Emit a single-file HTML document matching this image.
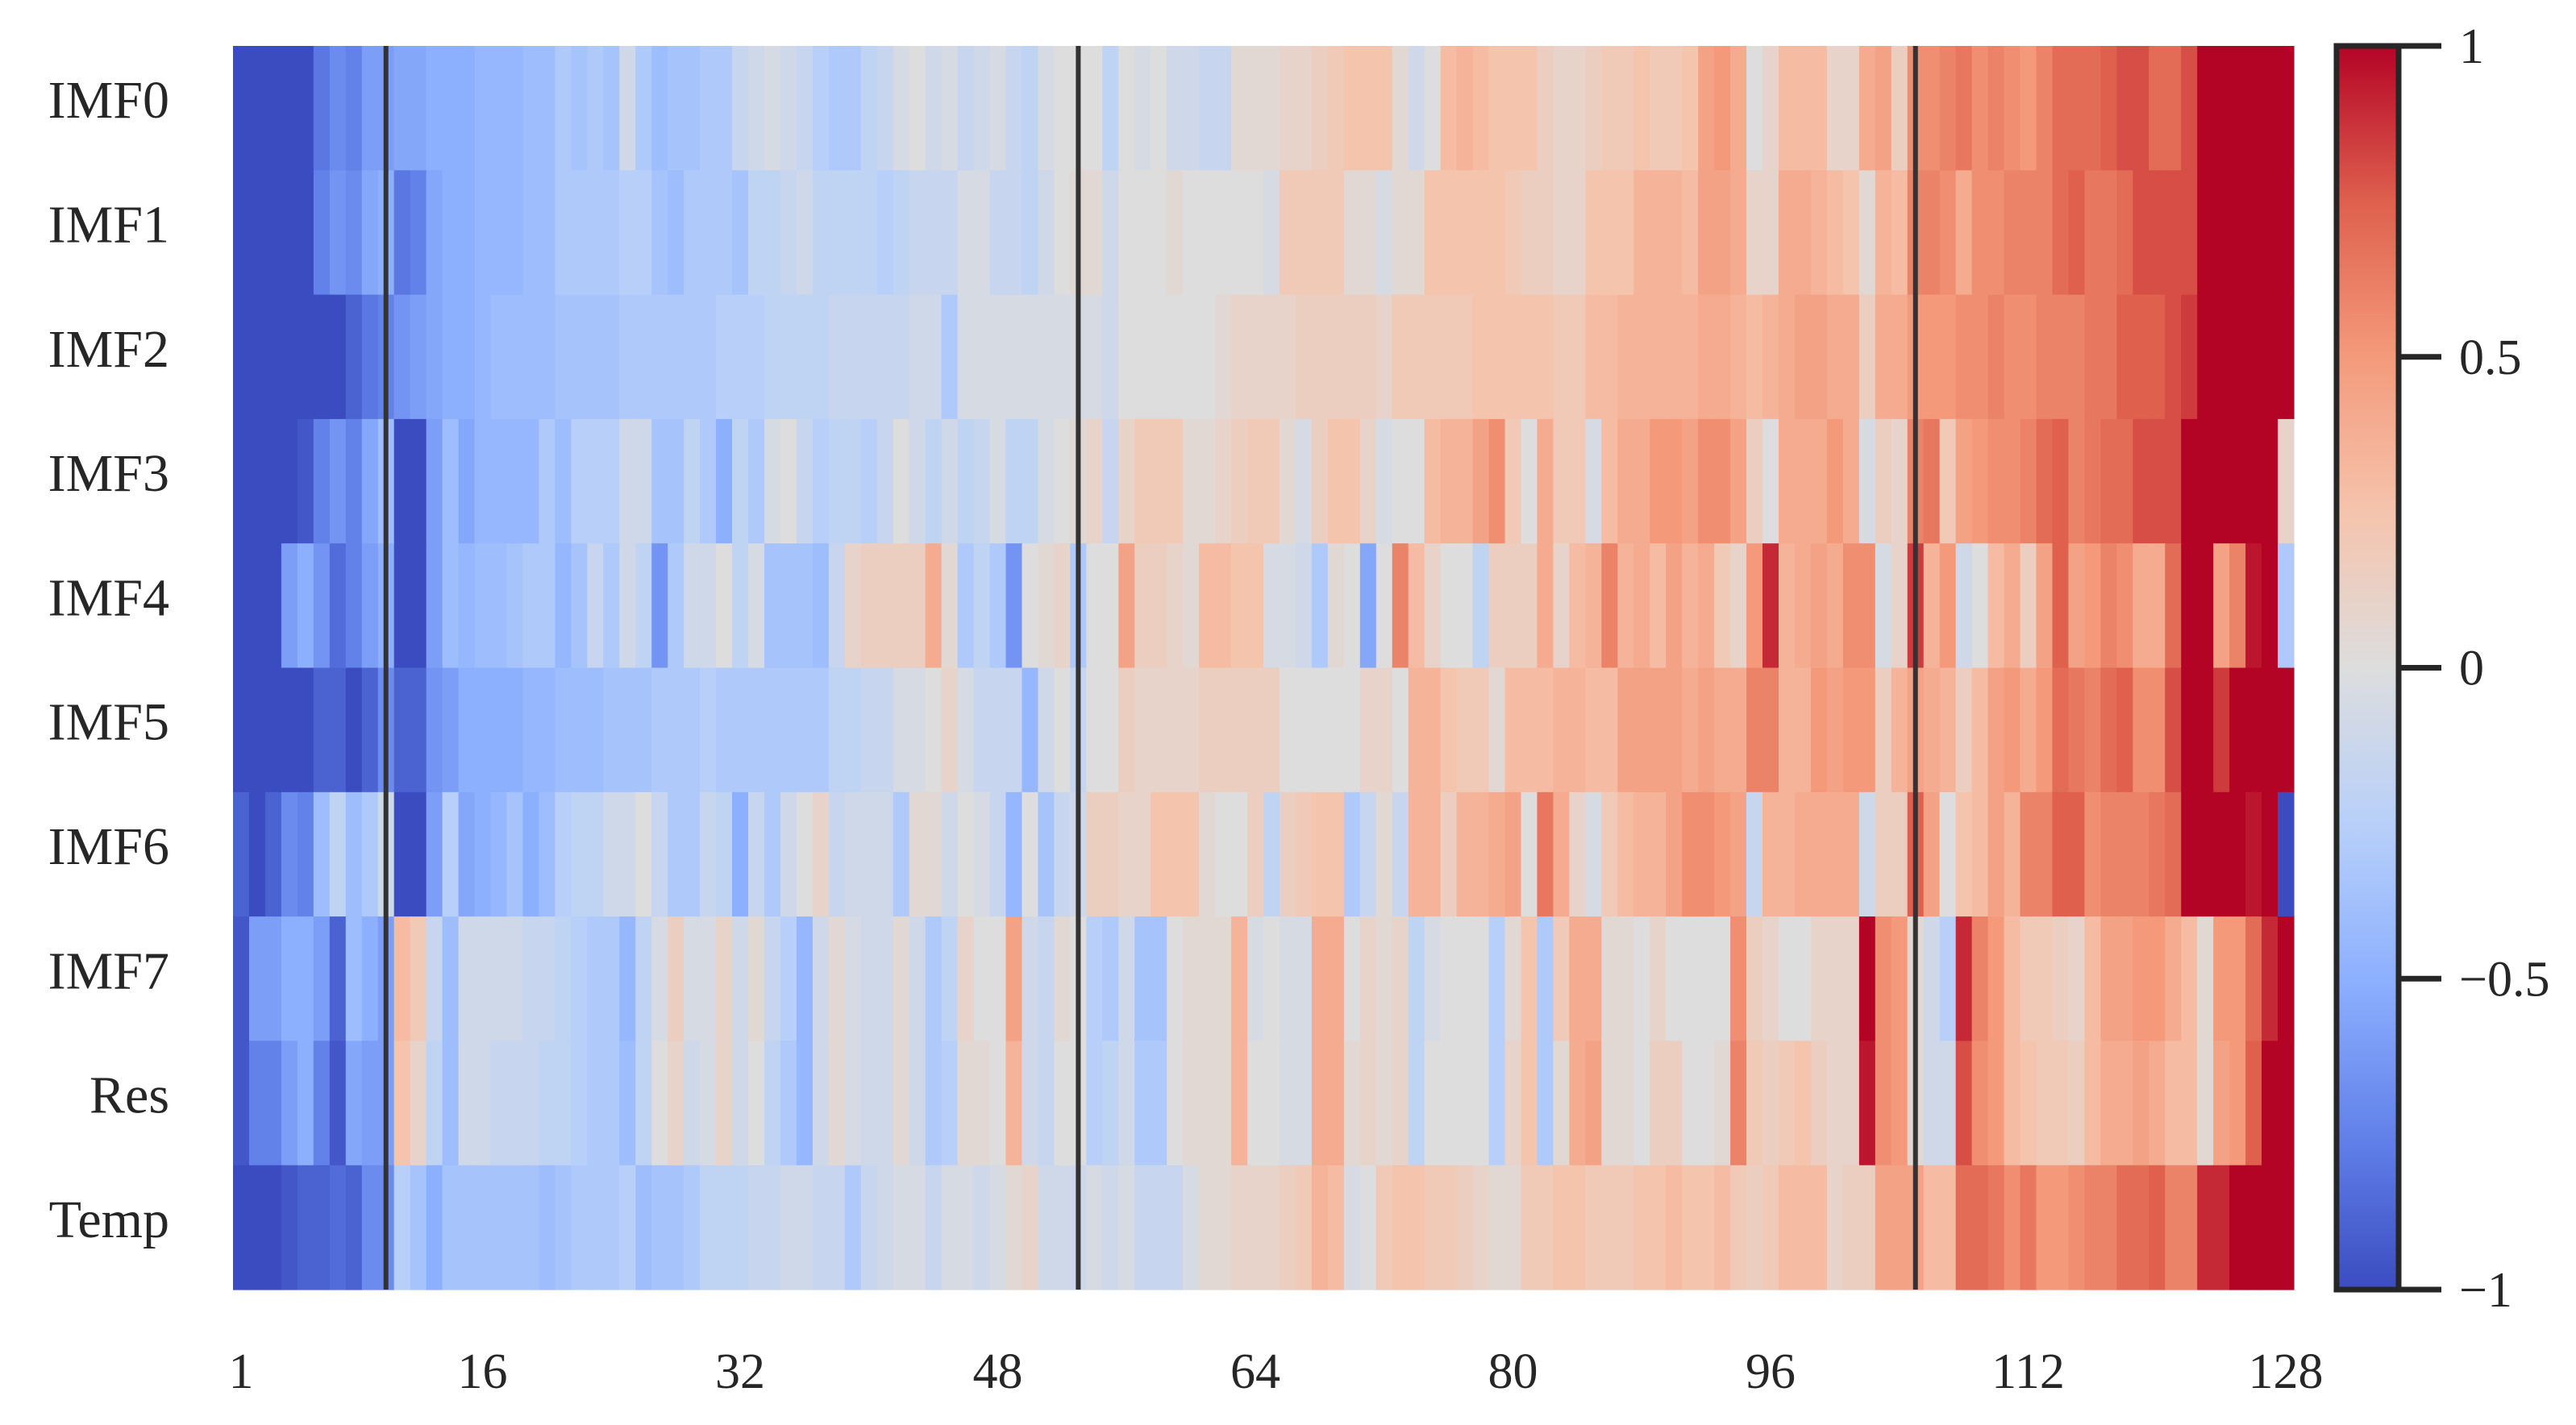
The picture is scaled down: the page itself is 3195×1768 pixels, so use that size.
<!DOCTYPE html>
<html><head><meta charset="utf-8"><style>
html,body{margin:0;padding:0;background:#fff;}
svg{display:block;font-family:"Liberation Serif",serif;}
</style></head><body>
<svg id="chart" width="3195" height="1768" viewBox="0 0 3195 1768" xmlns="http://www.w3.org/2000/svg">
<defs><linearGradient id="cbgrad" x1="0" y1="1" x2="0" y2="0">
<stop offset="0" stop-color="rgb(59,76,192)"/><stop offset="0.125" stop-color="rgb(98,130,234)"/><stop offset="0.25" stop-color="rgb(141,176,254)"/><stop offset="0.375" stop-color="rgb(184,208,249)"/><stop offset="0.5" stop-color="rgb(221,221,221)"/><stop offset="0.625" stop-color="rgb(245,196,173)"/><stop offset="0.75" stop-color="rgb(244,154,123)"/><stop offset="0.875" stop-color="rgb(222,96,77)"/><stop offset="1" stop-color="rgb(180,4,38)"/>
</linearGradient></defs>
<g id="cells"></g>
<g id="vlines"></g>
<g id="ylabels"></g>
<g id="xlabels"></g>
<g id="colorbar"></g>
</svg>
<script>
const rowLabels=["IMF0","IMF1","IMF2","IMF3","IMF4","IMF5","IMF6","IMF7","Res","Temp"];
const xTicks=[1,16,32,48,64,80,96,112,128];
const cbTicks=[1,0.5,0,-0.5,-1];
const cbTickLabels=["1","0.5","0","\u22120.5","\u22121"];
const markerCols=[10,53,105];
const imf0=[-1,-1,-1,-1,-1,-.8,-.7,-.75,-.6,-.6,-.55,-.55,-.5,-.5,-.5,-.45,-.45,-.45,-.4,-.4,-.3,-.35,-.3,-.35,-.1,-.3,-.4,-.35,-.35,-.3,-.3,-.15,-.1,-.05,-.1,-.15,-.25,-.3,-.3,-.2,-.15,-.05,0,-.1,-.05,-.15,-.1,-.05,-.15,-.2,-.05,0,0,0,-.2,0,-.05,0,-.1,-.1,-.15,-.15,.05,.05,.05,.1,.1,.15,.2,.25,.25,.25,.05,-.1,0,.3,.35,.3,.25,.25,.25,.15,.1,.1,.15,.2,.2,.25,.2,.2,.25,.45,.5,.4,0,.1,.3,.3,.3,.1,.1,.4,.45,.15,.55,.55,.6,.65,.55,.6,.55,.5,.6,.7,.7,.7,.75,.8,.8,.7,.7,.8,1,1,1,1,1,1];
const imf1=[-1,-1,-1,-1,-1,-.75,-.65,-.7,-.55,-.5,-.8,-.75,-.55,-.5,-.5,-.45,-.45,-.45,-.4,-.4,-.3,-.3,-.3,-.3,-.25,-.25,-.35,-.4,-.3,-.3,-.3,-.35,-.2,-.2,-.15,-.1,-.2,-.2,-.2,-.2,-.25,-.2,-.15,-.15,-.15,-.05,-.05,-.15,-.15,-.2,-.1,0,.05,.05,-.1,0,0,0,.05,0,0,0,0,0,-.05,.2,.2,.2,.2,.05,.05,-.05,.05,.05,.25,.25,.25,.25,.25,.2,.15,.15,.1,.1,.25,.25,.25,.35,.35,.35,.3,.45,.45,.4,.1,.1,.4,.4,.35,.3,.25,.05,.35,.3,.6,.6,.55,.4,.55,.55,.6,.6,.6,.7,.75,.65,.65,.7,.8,.8,.8,.8,1,1,1,1,1,1];
const imf2=[-1,-1,-1,-1,-1,-1,-1,-.9,-.8,-.75,-.65,-.6,-.55,-.5,-.5,-.45,-.4,-.4,-.4,-.4,-.35,-.35,-.35,-.35,-.3,-.3,-.3,-.3,-.3,-.3,-.25,-.25,-.25,-.2,-.2,-.2,-.2,-.15,-.15,-.15,-.15,-.15,-.1,-.1,-.3,-.05,-.05,-.05,-.05,-.05,-.05,-.05,-.05,-.05,-.1,0,0,0,0,0,0,.05,.1,.1,.1,.1,.15,.15,.15,.15,.15,.1,.2,.2,.2,.2,.2,.25,.25,.25,.25,.25,.2,.2,.3,.3,.35,.35,.35,.35,.35,.4,.4,.35,.3,.35,.4,.45,.45,.4,.4,.15,.4,.4,.5,.5,.5,.55,.55,.6,.55,.55,.6,.6,.6,.65,.65,.75,.75,.75,.8,.85,1,1,1,1,1,1];
const imf3=[-1,-1,-1,-1,-.95,-.75,-.65,-.75,-.55,-.4,-1,-1,-.6,-.4,-.55,-.45,-.45,-.45,-.45,-.3,-.4,-.25,-.25,-.25,-.1,-.1,-.35,-.35,-.2,-.3,-.5,-.2,-.3,-.05,0,-.15,-.25,-.2,-.2,-.25,-.15,0,-.1,-.2,-.1,-.2,-.15,-.05,-.2,-.2,-.05,0,.05,.1,-.15,.1,.2,.2,.2,.05,.05,.1,.15,.2,.2,.05,-.05,.15,.25,.25,.1,-.05,0,0,.3,.35,.35,.45,.55,.2,0,.4,.2,.2,-.05,.3,.4,.4,.5,.5,.45,.55,.55,.45,.15,0,.4,.4,.4,.5,.4,-.05,.15,.1,.6,.65,.2,.45,.5,.55,.55,.6,.7,.75,.6,.65,.7,.7,.8,.8,.8,1,1,1,1,1,1,.1];
const imf4=[-1,-1,-1,-.6,-.5,-.65,-.85,-.75,-.6,-.5,-1,-1,-.6,-.4,-.45,-.4,-.4,-.35,-.3,-.3,-.45,-.35,-.15,-.3,-.1,-.2,-.65,-.3,-.1,-.1,0,-.2,-.05,-.35,-.35,-.35,-.4,-.15,.1,.15,.15,.15,.15,.4,.05,-.3,-.2,-.3,-.65,0,.05,.1,-.3,0,0,.45,.15,.15,.1,.05,.3,.3,.25,.25,-.05,-.05,-.1,-.3,.05,0,-.55,0,.6,.3,.1,0,0,-.2,.15,.15,.15,.4,.1,.3,.35,.6,.35,.4,.3,.45,.35,.4,.2,.1,.5,.9,.35,.4,.45,.4,.55,.55,-.05,.1,.85,.35,.5,-.1,0,.3,.4,.15,.45,.75,.45,.5,.6,.55,.4,.4,.7,1,1,.45,.6,.95,1,-.3];
const imf5=[-1,-1,-1,-1,-1,-.9,-.9,-1,-.9,-.7,-.9,-.9,-.65,-.6,-.5,-.5,-.5,-.5,-.45,-.45,-.4,-.4,-.4,-.35,-.35,-.35,-.3,-.3,-.3,-.25,-.3,-.3,-.3,-.3,-.3,-.3,-.3,-.2,-.2,-.15,-.15,-.05,-.05,0,.1,-.05,-.15,-.15,-.15,-.45,-.1,0,-.15,0,0,.15,.1,.1,.1,.1,.15,.15,.15,.15,.15,0,0,0,0,0,.1,.1,0,.35,.35,.25,.2,.2,.05,.3,.3,.3,.35,.35,.3,.3,.45,.45,.45,.45,.4,.45,.4,.4,.6,.6,.35,.35,.5,.45,.5,.5,.15,.35,.45,.4,.35,.15,.3,.45,.5,.4,.5,.7,.65,.6,.7,.75,.55,.55,.8,1,1,.85,1,1,1,1];
const imf6=[-.9,-1,-.9,-.7,-.75,-.4,-.2,-.4,-.3,-.1,-1,-1,-.6,-.25,-.55,-.5,-.45,-.35,-.5,-.4,-.25,-.2,-.2,-.1,-.1,0,-.15,-.3,-.3,-.15,-.2,-.5,-.15,-.3,-.1,0,.1,-.15,-.1,-.1,-.1,-.3,.05,.05,-.1,0,-.05,-.15,-.45,0,-.35,-.15,-.1,.15,.15,.1,.1,.25,.25,.25,.05,0,0,.15,-.2,.15,.2,.25,.25,-.3,-.15,.05,-.15,.35,.35,.15,.35,.35,.4,.45,0,.65,.4,.1,-.05,.2,.3,.35,.35,.45,.55,.55,.5,.45,-.15,.35,.35,.4,.4,.4,.4,-.1,.15,.15,.75,.45,0,.25,.3,.45,.35,.6,.6,.75,.75,.55,.6,.6,.6,.65,.7,1,1,1,1,.95,1,-1];
const imf7=[-.95,-.6,-.6,-.5,-.5,-.6,-.9,-.4,-.5,-.6,.3,.2,-.15,-.4,-.1,-.1,-.1,-.1,-.15,-.15,-.2,-.25,-.3,-.3,-.45,-.2,-.05,.15,-.05,-.05,.1,-.1,.05,-.15,-.25,-.45,-.1,.05,-.05,-.1,-.1,.05,-.1,-.3,-.2,.1,0,0,.45,-.1,-.15,.05,0,-.25,-.3,-.1,-.35,-.35,0,.05,.05,.05,.35,-.05,0,-.05,-.05,.4,.4,0,.1,.05,.1,-.2,-.05,0,0,0,-.25,.05,.25,-.3,.2,.4,.4,.05,.05,0,.1,0,0,0,0,.55,.15,.1,0,0,.1,.1,.1,1,.55,.5,.05,-.1,-.25,.9,.6,.5,.3,.2,.2,.15,.1,.3,.45,.45,.5,.5,.4,.3,.05,.5,.5,.7,.9,1];
const res=[-.95,-.75,-.75,-.6,-.5,-.75,-.95,-.55,-.6,-.6,.25,.1,-.2,-.4,-.1,-.1,-.15,-.15,-.15,-.2,-.2,-.25,-.3,-.3,-.4,-.2,0,.1,-.1,-.05,.1,-.1,0,-.2,-.3,-.45,-.1,.05,-.05,-.1,-.1,.05,-.1,-.3,-.25,.05,.05,0,.35,-.1,-.15,0,0,-.25,-.2,-.1,-.3,-.3,0,.05,.05,.05,.35,0,0,-.05,-.05,.4,.4,.05,.1,.05,.1,-.2,0,0,0,0,-.25,.1,.25,-.3,.05,.4,.45,.05,.05,0,.15,.15,0,0,.05,.6,.2,.15,.2,.25,.15,.1,.1,.95,.55,.5,.05,-.1,-.1,.8,.55,.5,.3,.25,.2,.2,.15,.3,.4,.4,.45,.4,.3,.3,.05,.45,.5,.75,1,1];
const temp=[-1,-1,-1,-.95,-.9,-.9,-.85,-.9,-.7,-.7,-.25,-.35,-.5,-.35,-.35,-.35,-.35,-.35,-.35,-.4,-.35,-.3,-.3,-.3,-.25,-.4,-.35,-.35,-.3,-.2,-.2,-.2,-.15,-.15,-.1,-.1,-.15,-.15,-.3,-.15,-.1,-.05,-.05,-.15,-.05,-.05,-.1,-.05,.05,.1,-.1,-.1,-.1,-.05,-.1,-.05,-.15,-.15,-.15,-.05,.05,.05,.1,.1,.1,.15,.2,.35,.3,-.05,0,.2,.25,.25,.2,.2,.15,.1,.05,.05,.2,.2,.25,.25,.2,.2,.2,.25,.25,.3,.25,.25,.3,.2,.15,.2,.3,.3,.3,.1,.15,.15,.45,.45,.45,.3,.3,.7,.7,.65,.55,.65,.5,.5,.55,.6,.6,.7,.7,.75,.6,.6,.9,.9,1,1,1,1];
const rows=[imf0,imf1,imf2,imf3,imf4,imf5,imf6,imf7,res,temp];

const NS="http://www.w3.org/2000/svg";
const X0=289,X1=2845,Y0=57,Y1=1600,NC=128;
const cw=(X1-X0)/NC, rh=(Y1-Y0)/rowLabels.length;
function xScale(c){return X0+(c-1)*cw;}
function yScale(r){return Y0+r*rh;}
const stops=[[0,59,76,192],[.125,98,130,234],[.25,141,176,254],[.375,184,208,249],[.5,221,221,221],[.625,245,196,173],[.75,244,154,123],[.875,222,96,77],[1,180,4,38]];
function color(v){let t=Math.max(0,Math.min(1,(v+1)/2));for(let i=1;i<stops.length;i++){if(t<=stops[i][0]){const a=stops[i-1],b=stops[i],f=(t-a[0])/(b[0]-a[0]);return `rgb(${Math.round(a[1]+f*(b[1]-a[1]))},${Math.round(a[2]+f*(b[2]-a[2]))},${Math.round(a[3]+f*(b[3]-a[3]))})`;}}return "rgb(180,4,38)";}
function mk(tag,attrs,parent){const e=document.createElementNS(NS,tag);for(const k in attrs)e.setAttribute(k,attrs[k]);parent.appendChild(e);return e;}

const cells=document.getElementById('cells');
rows.forEach((row,r)=>{row.forEach((v,i)=>{
  const el=mk('rect',{x:xScale(i+1).toFixed(2),y:yScale(r).toFixed(2),width:(cw+0.6).toFixed(2),height:(rh+0.6).toFixed(2),fill:color(v)},cells);
  
  
});});

const vl=document.getElementById('vlines');
markerCols.forEach(c=>{const x=xScale(c)+cw/2;
  const el=mk('line',{x1:x,y1:Y0,x2:x,y2:Y1,stroke:'#333',"stroke-width":6},vl);
  
  
});

const yl=document.getElementById('ylabels');
rowLabels.forEach((lab,r)=>{
  const el=mk('text',{x:210,y:yScale(r)+rh/2+12,"text-anchor":"end","font-size":66,fill:"#262626"},yl);
  el.textContent=lab;
  
  
});

const xl=document.getElementById('xlabels');
xTicks.forEach(t=>{
  const el=mk('text',{x:xScale(t)+cw/2,y:1722,"text-anchor":"middle","font-size":62,fill:"#262626"},xl);
  el.textContent=t;
  
  
});

const cb=document.getElementById('colorbar');
const CBX0=2898,CBX1=2975;
function cbY(v){return Y1-(v+1)/2*(Y1-Y0);}
const bar=mk('rect',{x:CBX0,y:Y0,width:CBX1-CBX0,height:Y1-Y0,fill:"url(#cbgrad)",stroke:"#262626","stroke-width":7},cb);


cbTicks.forEach((t,i)=>{
  const y=cbY(t);
  const tk=mk('line',{x1:CBX1,y1:y,x2:3028,y2:y,stroke:"#262626","stroke-width":7},cb);
  
  
  const tx=mk('text',{x:3050,y:y+21,"font-size":62,fill:"#262626"},cb);
  tx.textContent=cbTickLabels[i];
  
  
});
</script>
</body></html>
